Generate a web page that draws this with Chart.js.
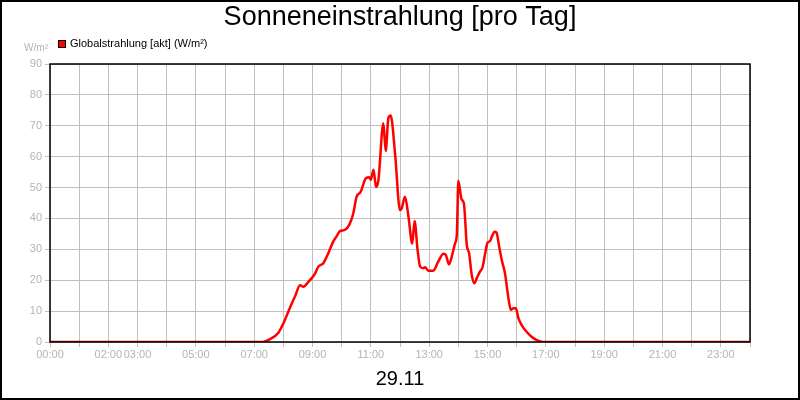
<!DOCTYPE html>
<html>
<head>
<meta charset="utf-8">
<script src="https://cdn.jsdelivr.net/npm/chart.js@4/dist/chart.umd.min.js"></script>
<style>
  html, body { margin: 0; padding: 0; background: #fff; }
  #wrap { width: 800px; height: 400px; }
</style>
</head>
<body>
<div id="wrap"><canvas id="sunChart" width="800" height="400"></canvas></div>
<script>
// Globalstrahlung 29.11, hour of day -> W/m²
const hours = [0, 7.3, 7.54, 7.83, 8.0, 8.17, 8.29, 8.4, 8.57, 8.69, 8.86, 8.97, 9.09, 9.2, 9.37, 9.54, 9.71, 9.83, 9.94,
  10.11, 10.26, 10.4, 10.51, 10.65, 10.83, 10.95, 11.0, 11.09, 11.18, 11.26, 11.43, 11.51, 11.6, 11.68, 11.83,
  12.0, 12.06, 12.17, 12.29, 12.42, 12.5, 12.6, 12.69, 12.8, 12.86, 12.97, 13.14, 13.31, 13.49, 13.57, 13.68,
  13.77, 13.89, 13.95, 14.0, 14.11, 14.19, 14.29, 14.37, 14.46, 14.55, 14.63, 14.74, 14.83, 14.91, 15.0, 15.09,
  15.17, 15.24, 15.31, 15.4, 15.49, 15.6, 15.71, 15.8, 15.89, 15.97, 16.06, 16.17, 16.34, 16.51, 16.69, 16.91, 24];
const globalstrahlung = [0, 0, 0.9, 3, 6, 9.8, 12.5, 14.7, 18.4, 17.9, 19.5, 20.6, 22.2, 24.4, 25.5, 28.7, 32.5, 34.3, 35.9,
  36.3, 37.9, 41.7, 47, 48.6, 53, 53.3, 52.5, 55.8, 50.2, 52.4, 70.8, 61.8, 72.4, 73.3, 61.1,
  42.7, 43.3, 47, 40.6, 31.9, 39.2, 30, 24.4, 23.9, 24.2, 23.1, 23.1, 26, 28.6, 28.2, 25.1,
  27.5, 32, 35, 52.2, 46.2, 44.9, 31.4, 28.7, 21.7, 19.0, 20.6, 22.8, 24.2, 28.2, 32.1, 32.7,
  34.6, 35.7, 35.4, 30.9, 26.5, 22.2, 14.7, 10.4, 10.9, 10.9, 7.7, 5.5, 3.3, 1.7, 0.6, 0, 0];

const xLabelHours = [0, 2, 3, 5, 7, 9, 11, 13, 15, 17, 19, 21, 23];
const yTicks = [0, 10, 20, 30, 40, 50, 60, 70, 80, 90];

const titleText = "Sonneneinstrahlung [pro Tag]";
const legendText = "Globalstrahlung [akt] (W/m²)";
const unitText = "W/m²";
const dateText = "29.11";

const gridCol = "#c0c0c0";
const tickCol = "#b4b4b4";
const fontFam = "'Liberation Sans', Arial, sans-serif";

function pad2(n) {
    return (n < 10 ? "0" : "") + n + ":00";
}

let points = [];
for (let i = 0; i < hours.length; i++) {
    points.push({ x: hours[i], y: globalstrahlung[i] });
}

// frame, plot box and the texts around the plot
const decoPlugin = {
    id: "deco",
    beforeDraw(chart) {
        const c = chart.ctx;
        c.save();
        c.fillStyle = "#fff";
        c.fillRect(0, 0, chart.width, chart.height);
        c.restore();
    },
    afterDraw(chart) {
        const c = chart.ctx;
        const a = chart.chartArea;
        c.save();
        c.strokeStyle = "#000";
        c.lineWidth = 1.5;
        c.strokeRect(a.left, a.top, a.right - a.left, a.bottom - a.top);
        c.lineWidth = 2;
        c.strokeRect(1, 1, chart.width - 2, chart.height - 2);

        c.fillStyle = "#000";
        c.textAlign = "center";
        c.textBaseline = "middle";
        c.font = "27px " + fontFam;
        c.fillText(titleText, chart.width / 2, 18);

        c.font = "20px " + fontFam;
        c.fillText(dateText, chart.width / 2, 379);

        c.fillStyle = "#ff0000";
        c.fillRect(58, 40, 8, 8);
        c.strokeStyle = "#000";
        c.lineWidth = 1;
        c.strokeRect(58.5, 40.5, 7, 7);
        c.fillStyle = "#000";
        c.textAlign = "left";
        c.font = "11px " + fontFam;
        c.fillText(legendText, 70, 44);

        c.fillStyle = tickCol;
        c.textAlign = "right";
        c.font = "10px " + fontFam;
        c.fillText(unitText, 48, 48);
        c.restore();
    }
};

const ctx = document.getElementById("sunChart").getContext("2d");
new Chart(ctx, {
    type: "line",
    data: {
        datasets: [{
            label: legendText,
            data: points,
            borderColor: "#ff0000",
            backgroundColor: "#ff0000",
            borderWidth: 2.5,
            pointRadius: 0,
            fill: false,
            cubicInterpolationMode: "monotone"
        }]
    },
    options: {
        responsive: false,
        animation: false,
        devicePixelRatio: 1,
        layout: { padding: { top: 64, right: 50, left: 0, bottom: 0 } },
        plugins: {
            legend: { display: false },
            title: { display: false },
            tooltip: { enabled: false }
        },
        scales: {
            x: {
                type: "linear",
                min: 0,
                max: 24,
                afterFit: (s) => { s.height = 58; },
                afterBuildTicks: (s) => {
                    let t = [];
                    for (let h = 0; h <= 24; h++) t.push({ value: h });
                    s.ticks = t;
                },
                ticks: {
                    autoSkip: false,
                    maxRotation: 0,
                    color: tickCol,
                    padding: 1,
                    font: { family: fontFam, size: 11 },
                    callback: (v) => xLabelHours.includes(v) ? pad2(v) : ""
                },
                grid: { color: gridCol, lineWidth: 1, tickLength: 5, tickColor: gridCol },
                border: { display: false }
            },
            y: {
                min: 0,
                max: 90,
                afterFit: (s) => { s.width = 50; },
                afterBuildTicks: (s) => { s.ticks = yTicks.map(v => ({ value: v })); },
                ticks: {
                    color: tickCol,
                    padding: 3,
                    font: { family: fontFam, size: 11 }
                },
                grid: { color: gridCol, lineWidth: 1, tickLength: 5, tickColor: gridCol },
                border: { display: false }
            }
        }
    },
    plugins: [decoPlugin]
});
</script>
</body>
</html>
